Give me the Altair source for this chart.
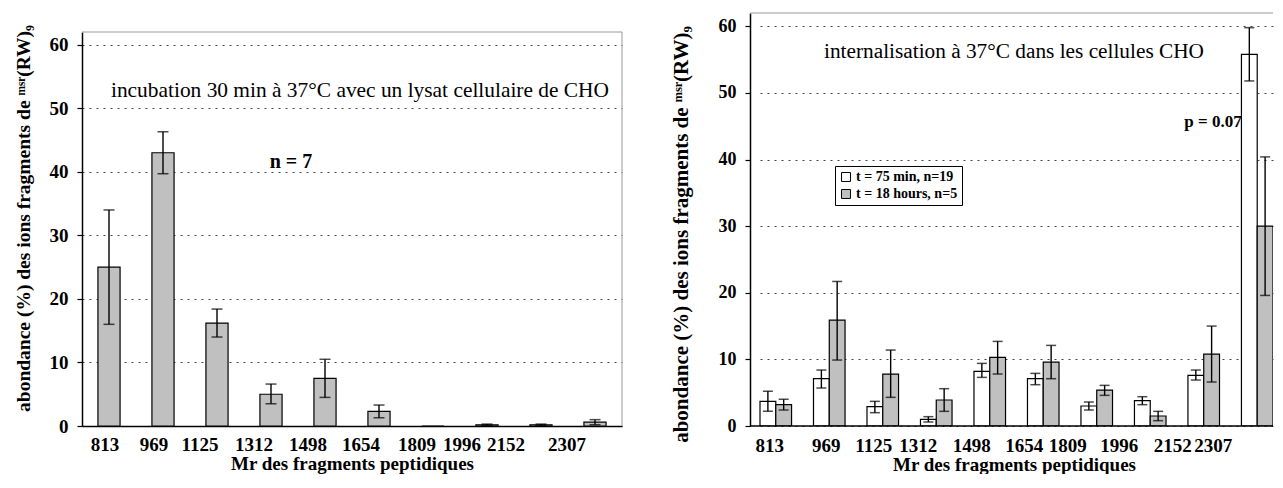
import altair as alt
import pandas as pd

# ---------------- data ----------------
mr = ["813", "969", "1125", "1312", "1498", "1654", "1809", "1996", "2152", "2307"]

# left panel: incubation with CHO cell lysate (n = 7)
left_mean = [25.0, 43.0, 16.2, 5.0, 7.5, 2.3, 0.0, 0.2, 0.2, 0.6]
left_lo = [16.0, 39.7, 14.0, 3.5, 4.5, 1.3, 0.0, 0.1, 0.1, 0.2]
left_hi = [34.0, 46.3, 18.4, 6.6, 10.5, 3.3, 0.0, 0.3, 0.3, 1.0]

# right panel: internalisation in CHO cells
series = ["t = 75 min, n=19", "t = 18 hours, n=5"]
w_mean = [3.7, 7.1, 2.9, 1.0, 8.2, 7.1, 3.0, 3.8, 7.6, 55.8]
w_lo = [2.2, 5.7, 2.0, 0.6, 7.3, 6.2, 2.4, 3.2, 6.9, 51.8]
w_hi = [5.2, 8.4, 3.7, 1.4, 9.4, 7.9, 3.6, 4.4, 8.4, 59.8]
g_mean = [3.2, 15.9, 7.8, 3.9, 10.3, 9.6, 5.4, 1.5, 10.8, 30.0]
g_lo = [2.4, 9.9, 4.3, 2.2, 7.8, 7.1, 4.6, 0.8, 6.6, 19.6]
g_hi = [4.0, 21.7, 11.4, 5.6, 12.7, 12.1, 6.1, 2.2, 15.0, 40.4]

y_ticks = [0, 10, 20, 30, 40, 50, 60]
y_max = 62
y_title = "abondance (%) des ions fragments de \u1d50\u02e2\u02b3(RW)\u2089"
x_title = "Mr des fragments peptidiques"

# label placement quirks of the original (pixel nudges of tick labels)
left_label_nudge = [-4, -9, -17, -17, -17, -18, -16, -25, -35, -28]
right_label_nudge = [-6, -3, -9, -18, -18, -19, -29, -31, -31, -44]

FONT = "Liberation Serif, Times New Roman, serif"
GRAY = "#c0c0c0"
FRAME = "#999999"

# ---------------- tables ----------------
left_df = pd.DataFrame({"Mr": mr, "mean": left_mean, "lo": left_lo, "hi": left_hi})
left_err = left_df[left_df["hi"] > left_df["lo"]]

right_df = pd.concat([
    pd.DataFrame({"Mr": mr, "series": series[0], "mean": w_mean, "lo": w_lo, "hi": w_hi}),
    pd.DataFrame({"Mr": mr, "series": series[1], "mean": g_mean, "lo": g_lo, "hi": g_hi}),
], ignore_index=True)

one = pd.DataFrame({"k": [0]})


def nudge_expr(nudges):
    return alt.ExprRef(expr=f"{nudges}[indexof({mr}, datum.value)]")


def y_enc(field, title_y, title_size, title_pad, label_size, label_pad, rng=None):
    sc = dict(domain=[0, y_max], nice=False, zero=True)
    if rng is not None:
        sc["range"] = rng
    return alt.Y(
        f"{field}:Q",
        scale=alt.Scale(**sc),
        axis=alt.Axis(
            values=y_ticks, title=y_title, titleFont=FONT, titleFontSize=title_size,
            titleFontWeight="bold", titleColor="black", titleY=title_y, titlePadding=title_pad,
            labelFont=FONT, labelFontSize=label_size, labelFontWeight="bold", labelColor="black",
            labelPadding=label_pad, tickSize=5, tickColor="black", tickWidth=1.2,
            domainColor="black", domainWidth=1.5,
            grid=True, gridColor="#444444", gridDash=[2, 5], gridWidth=1,
        ),
    )


def x_axis(nudges, pad, tpad, **extra):
    return alt.Axis(
        labelAngle=0, ticks=False, tickSize=0,
        labelFont=FONT, labelFontSize=19, labelFontWeight="bold", labelColor="black",
        labelPadding=pad, labelOffset=nudge_expr(nudges),
        titleFont=FONT, titleFontSize=19, titleFontWeight="bold", titleColor="black",
        titlePadding=tpad, **extra,
    )


# ---------------- left panel ----------------
L_W, L_H, L_TOP = 540, 413, 19

lx = alt.X(
    "Mr:N", sort=mr, title=x_title,
    scale=alt.Scale(paddingInner=0.59),
    axis=x_axis(left_label_nudge, 9, 0, domainColor="black", domainWidth=1.5),
)

l_bars = alt.Chart(left_df).mark_bar(fill=GRAY, stroke="black", strokeWidth=1.2).encode(
    x=lx, y=y_enc("mean", 205, 19.5, 16, 19, 9, rng=[L_H, L_TOP])
)
l_rule = alt.Chart(left_err).mark_rule(color="black", strokeWidth=1.4).encode(
    x=alt.X("Mr:N", sort=mr), y="lo:Q", y2="hi:Q"
)
l_caps = alt.Chart(left_err).transform_fold(["lo", "hi"], as_=["end", "v"]).mark_tick(
    color="black", size=11, thickness=1.5
).encode(x=alt.X("Mr:N", sort=mr), y="v:Q")
l_top = alt.Chart(one).mark_rule(color=FRAME, strokeWidth=1).encode(y=alt.datum(y_max))
l_right = alt.Chart(one).mark_rule(color=FRAME, strokeWidth=1).encode(
    x=alt.value(L_W), y=alt.datum(0), y2=alt.datum(y_max)
)
l_txt1 = alt.Chart(pd.DataFrame({"t": ["incubation 30 min à 37°C avec un lysat cellulaire de CHO"]})).mark_text(
    font=FONT, fontSize=21.4, color="black"
).encode(text="t:N", x=alt.value(278), y=alt.datum(52.7))
l_txt2 = alt.Chart(pd.DataFrame({"t": ["n = 7"]})).mark_text(
    font=FONT, fontSize=20, fontWeight="bold", color="black"
).encode(text="t:N", x=alt.value(209), y=alt.datum(41.6))

left = alt.layer(l_top, l_right, l_bars, l_rule, l_caps, l_txt1, l_txt2).properties(
    width=L_W, height=L_H, view=alt.ViewBackground(stroke=None)
)

# ---------------- right panel ----------------
R_W = 523
rx = alt.X(
    "Mr:N", sort=mr, title=x_title,
    scale=alt.Scale(paddingInner=0.41, paddingOuter=0, align=0, range=[10, R_W]),
    axis=x_axis(right_label_nudge, 10, 0, domain=False, titleX=264),
)
rxo = alt.XOffset("series:N", sort=series, scale=alt.Scale(domain=series))

r_bars = alt.Chart(right_df).mark_bar(stroke="black", strokeWidth=1.2, clip=True).encode(
    x=rx, xOffset=rxo, y=y_enc("mean", 221, 21, 27, 18, 9),
    fill=alt.Fill(
        "series:N", sort=series,
        scale=alt.Scale(domain=series, range=["white", GRAY]),
        legend=alt.Legend(
            title=None, orient="none", legendX=85, legendY=153,
            labelFont=FONT, labelFontSize=14, labelFontWeight="bold", labelColor="black",
            symbolType="square", symbolSize=80, symbolStrokeColor="black", symbolStrokeWidth=1,
            strokeColor="black", fillColor="white", padding=4, rowPadding=3, labelOffset=3,
        ),
    ),
)
r_rule = alt.Chart(right_df).mark_rule(color="black", strokeWidth=1.4, clip=True).encode(
    x=alt.X("Mr:N", sort=mr), xOffset=rxo, y="lo:Q", y2="hi:Q"
)
r_caps = alt.Chart(right_df).transform_fold(["lo", "hi"], as_=["end", "v"]).mark_tick(
    color="black", size=10, thickness=1.5, clip=True
).encode(x=alt.X("Mr:N", sort=mr), xOffset=rxo, y="v:Q")
r_top = alt.Chart(one).mark_rule(color=FRAME, strokeWidth=1).encode(y=alt.datum(y_max))
r_base = alt.Chart(one).mark_rule(color="black", strokeWidth=1.5).encode(y=alt.datum(0))
r_txt1 = alt.Chart(pd.DataFrame({"t": ["internalisation à 37°C dans les cellules CHO"]})).mark_text(
    font=FONT, fontSize=21.3, color="black"
).encode(text="t:N", x=alt.value(264), y=alt.datum(56.2))
r_txt2 = alt.Chart(pd.DataFrame({"t": ["p = 0.07"]})).mark_text(
    font=FONT, fontSize=17, fontWeight="bold", color="black"
).encode(text="t:N", x=alt.value(463), y=alt.datum(45.7))

right = alt.layer(r_top, r_bars, r_rule, r_caps, r_base, r_txt1, r_txt2).properties(
    width=R_W, height=413, view=alt.ViewBackground(stroke=None)
)

chart = alt.hconcat(left, right, spacing=47).resolve_legend(fill="independent").properties(
    padding={"left": 5, "top": 4, "right": 0, "bottom": 0},
    background="white",
)

chart.save("out.html", embed_options={"renderer": "svg", "actions": False})
